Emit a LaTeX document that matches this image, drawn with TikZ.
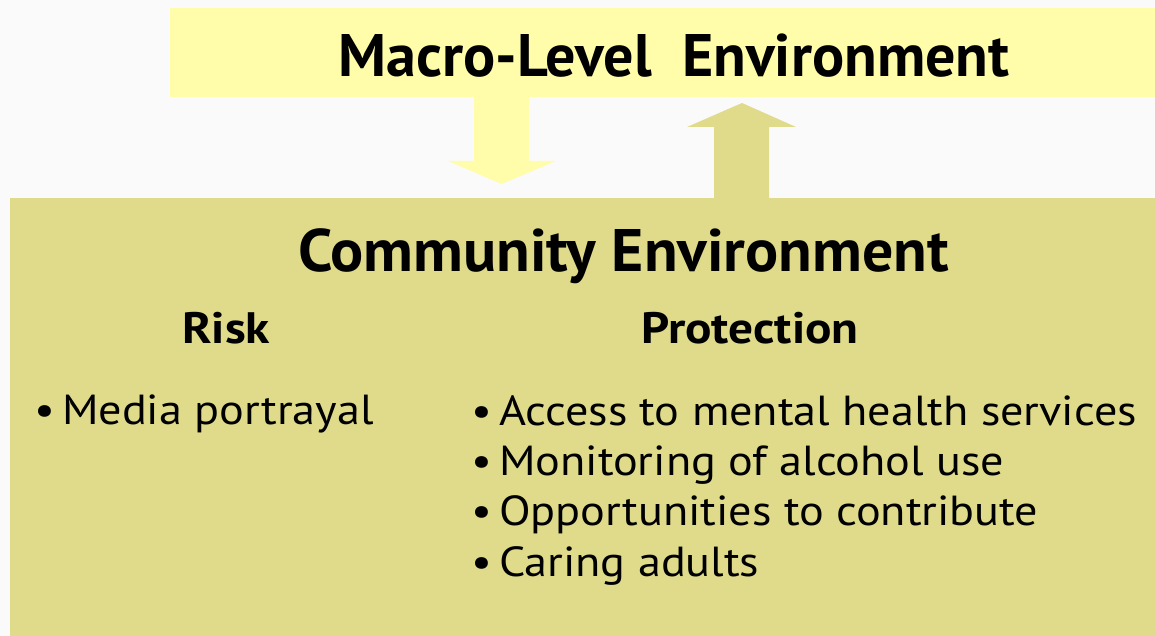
\documentclass[tikz,border=0pt]{standalone}
\usepackage{fontspec}
\setmainfont{PT Sans}
\newfontfamily\itemfont[FakeStretch=1.10]{PT Sans}
\newfontfamily\subfont[FakeStretch=1.12,BoldFont={PT Sans Bold}]{PT Sans}
\newfontfamily\commfont[FakeStretch=1.03,BoldFont={PT Sans Bold}]{PT Sans}
\definecolor{bgc}{HTML}{FAFAFA}
\definecolor{macroc}{HTML}{FFFCAA}
\definecolor{commc}{HTML}{DFDB8A}
\tikzset{
  panel/.style={inner sep=0pt, outer sep=0pt, anchor=north west},
  head/.style={inner sep=0pt, anchor=base, font=\bfseries\fontsize{60}{60}\selectfont},
  sub/.style={inner sep=0pt, anchor=base west, font=\subfont\bfseries\fontsize{44}{44}\selectfont},
  item/.style={inner sep=0pt, anchor=base west, font=\itemfont\fontsize{42}{42}\selectfont},
}
\begin{document}
\begin{tikzpicture}[x=1pt,y=-1pt]
\useasboundingbox (0,0) rectangle (1155,636);
\fill[bgc] (0,0) rectangle (1155,636);
\node[panel, fill=macroc, minimum width=985pt, minimum height=89pt] (macro) at (170,8) {};
\node[panel, fill=commc, minimum width=1145pt, minimum height=438pt] (comm) at (10,198) {};
\fill[macroc] (474,97) -- (529,97) -- (529,161) -- (556,161) -- (501.5,184) -- (448,161) -- (474,161) -- cycle;
\fill[commc] (714,198.5) -- (714,127) -- (687,127) -- (742,103) -- (796,127) -- (769,127) -- (769,198.5) -- cycle;
\node[head] (macrot) at (674,77) {Macro-Level\ \ Environment};
\node[head, font=\commfont\bfseries\fontsize{60}{60}\selectfont] (commt) at (623.5,271) {Community Environment};
\node[sub] (risk) at (182,343) {Risk};
\node[sub] (prot) at (641,343) {Protection};
\node[item] (r1) at (34,424) {•\,Media portrayal};
\node[item] (p1) at (471,425) {•\,Access to mental health services};
\node[item] (p2) at (471,475) {•\,Monitoring of alcohol use};
\node[item] (p3) at (471,525) {•\,Opportunities to contribute};
\node[item] (p4) at (471,576) {•\,Caring adults};
\end{tikzpicture}
\end{document}
